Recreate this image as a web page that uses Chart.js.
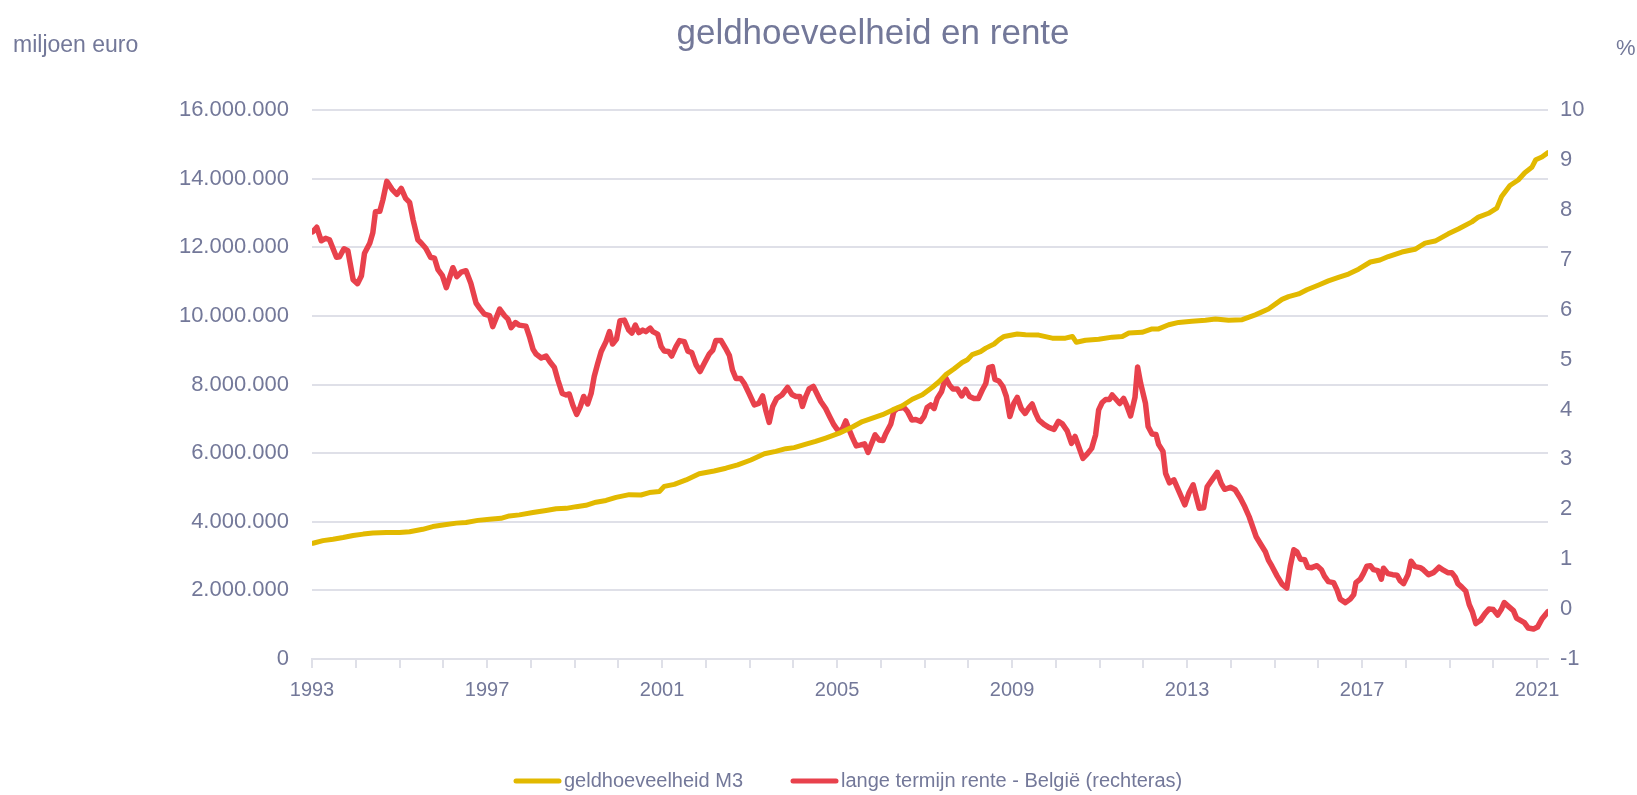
<!DOCTYPE html>
<html>
<head>
<meta charset="utf-8">
<script src="https://cdn.jsdelivr.net/npm/chart.js@4.4.1/dist/chart.umd.min.js"></script>
<style>
  html, body { margin: 0; padding: 0; background: #ffffff; }
  #wrap { width: 1637px; height: 795px; position: relative; }
</style>
</head>
<body>
<div id="wrap"><canvas id="c" width="1637" height="795"></canvas></div>
<script>
// ---------- DATA ----------
const chartTitle = 'geldhoeveelheid en rente';
const leftAxisTitle = 'miljoen euro';
const rightAxisTitle = '%';
const seriesNames = ['geldhoeveelheid M3', 'lange termijn rente - België (rechteras)'];
const xLabelYears = [1993, 1997, 2001, 2005, 2009, 2013, 2017, 2021];

// geldhoeveelheid M3 (miljoen euro), time in decimal years
const m3Years = [1993.02,1993.25,1993.48,1993.71,1993.94,1994.17,1994.39,1994.70,1995.00,1995.23,1995.53,1995.76,1996.03,1996.30,1996.52,1996.79,1997.06,1997.32,1997.51,1997.74,1998.05,1998.35,1998.58,1998.81,1999.04,1999.26,1999.49,1999.72,1999.95,2000.25,
  2000.52,2000.71,2000.94,2001.05,2001.28,2001.55,2001.85,2002.19,2002.46,2002.73,2003.03,2003.34,2003.60,2003.83,2004.02,2004.29,2004.51,2004.74,2005.05,2005.35,2005.58,2005.81,2006.04,2006.27,2006.49,2006.72,2006.95,2007.18,2007.33,
  2007.48,2007.67,2007.86,2007.98,2008.09,2008.28,2008.40,2008.59,2008.70,2008.82,2009.12,2009.31,2009.61,2009.92,2010.22,2010.38,2010.47,2010.68,2010.98,2011.29,2011.52,2011.67,2011.97,2012.20,2012.35,2012.58,2012.81,2013.11,2013.42,2013.65,2013.95,2014.26,2014.56,2014.86,
  2015.17,2015.32,2015.55,2015.74,2016.01,2016.23,2016.46,2016.69,2016.92,2017.19,2017.41,2017.60,2017.91,2018.21,2018.44,2018.67,2018.97,2019.20,2019.51,2019.66,2019.89,2020.08,2020.19,2020.38,2020.57,2020.72,2020.88,2020.97,2021.11,2021.25];
const m3Values = [3374000,3450000,3490000,3540000,3600000,3640000,3670000,3690000,3690000,3710000,3780000,3860000,3910000,3960000,3980000,4040000,4070000,4100000,4170000,4200000,4270000,4330000,4380000,4390000,4440000,4480000,4570000,4620000,4710000,4790000,
  4780000,4850000,4880000,5030000,5090000,5220000,5400000,5480000,5560000,5660000,5800000,5980000,6050000,6130000,6160000,6260000,6340000,6440000,6580000,6760000,6920000,7020000,7120000,7260000,7380000,7570000,7700000,7920000,8080000,
  8280000,8450000,8640000,8720000,8870000,8960000,9060000,9180000,9300000,9400000,9470000,9450000,9440000,9350000,9350000,9400000,9230000,9290000,9320000,9380000,9400000,9500000,9520000,9620000,9620000,9740000,9810000,9840000,9870000,9910000,9870000,9890000,10030000,10200000,
  10480000,10560000,10640000,10760000,10900000,11020000,11120000,11220000,11360000,11570000,11630000,11730000,11860000,11940000,12120000,12180000,12390000,12530000,12740000,12880000,12990000,13140000,13480000,13800000,13960000,14170000,14330000,14550000,14630000,14760000];

// lange termijn rente België (%), time in decimal years
const renteYears = [1993.02,1993.11,1993.21,1993.31,1993.40,1993.56,1993.63,1993.73,1993.82,1993.94,1994.04,1994.13,1994.20,1994.32,1994.39,1994.45,1994.55,1994.62,1994.71,1994.83,1994.94,1995.04,1995.14,1995.23,1995.31,1995.42,1995.50,1995.60,1995.71,1995.80,1995.88,1995.98,
  1996.07,1996.22,1996.31,1996.41,1996.52,1996.63,1996.75,1996.83,1996.94,1997.06,1997.13,1997.29,1997.40,1997.48,1997.55,1997.65,1997.73,1997.89,1997.97,1998.05,1998.12,1998.24,1998.35,1998.44,1998.54,1998.62,1998.72,1998.81,1998.88,1998.96,
  1999.05,1999.13,1999.21,1999.30,1999.38,1999.45,1999.53,1999.61,1999.72,1999.80,1999.87,1999.96,2000.04,2000.14,2000.24,2000.31,2000.39,2000.47,2000.56,2000.63,2000.73,2000.79,2000.90,2000.98,
  2001.05,2001.15,2001.22,2001.32,2001.40,2001.51,2001.59,2001.68,2001.78,2001.87,2001.97,2002.08,2002.16,2002.23,2002.35,2002.45,2002.54,2002.61,2002.69,2002.80,2002.88,2002.99,
  2003.11,2003.21,2003.30,2003.37,2003.45,2003.53,2003.62,2003.74,2003.87,2003.97,2004.06,2004.15,2004.21,2004.29,2004.36,2004.46,2004.55,2004.63,2004.74,2004.83,2004.93,
  2005.01,2005.11,2005.20,2005.28,2005.35,2005.44,2005.54,2005.63,2005.71,2005.79,2005.87,2005.96,2006.05,2006.11,2006.23,2006.30,2006.38,2006.53,2006.61,2006.71,2006.80,2006.91,2006.99,
  2007.06,2007.14,2007.22,2007.29,2007.39,2007.48,2007.57,2007.65,2007.75,2007.85,2007.94,2008.03,2008.13,2008.23,2008.32,2008.40,2008.47,2008.55,2008.61,2008.70,2008.79,2008.87,2008.95,
  2009.04,2009.12,2009.21,2009.30,2009.39,2009.46,2009.54,2009.61,2009.73,2009.84,2009.96,2010.06,2010.15,2010.26,2010.36,2010.44,2010.53,2010.62,2010.72,2010.82,2010.91,2010.98,
  2011.06,2011.14,2011.23,2011.29,2011.36,2011.46,2011.55,2011.63,2011.71,2011.81,2011.87,2011.94,2012.05,2012.11,2012.20,2012.29,2012.35,2012.45,2012.51,2012.60,2012.70,2012.80,2012.87,2012.95,
  2013.04,2013.14,2013.21,2013.28,2013.38,2013.46,2013.57,2013.69,2013.78,2013.86,2013.99,2014.10,2014.22,2014.32,2014.42,2014.50,2014.58,2014.67,2014.79,2014.86,2014.94,
  2015.06,2015.17,2015.28,2015.36,2015.44,2015.51,2015.59,2015.69,2015.76,2015.85,2015.97,2016.07,2016.14,2016.23,2016.35,2016.43,2016.50,2016.62,2016.73,2016.81,2016.86,2016.96,
  2017.03,2017.11,2017.19,2017.26,2017.36,2017.44,2017.49,2017.59,2017.70,2017.80,2017.87,2017.95,2018.05,2018.12,2018.21,2018.33,2018.40,2018.52,2018.63,2018.76,2018.86,2018.96,
  2019.05,2019.13,2019.19,2019.28,2019.37,2019.45,2019.52,2019.60,2019.70,2019.81,2019.90,2020.00,2020.10,2020.18,2020.25,2020.34,2020.46,2020.53,2020.61,2020.71,2020.80,2020.92,2021.01,2021.11,2021.25];
const renteValues = [7.56,7.65,7.38,7.43,7.40,7.05,7.06,7.22,7.18,6.60,6.52,6.68,7.13,7.33,7.54,7.96,7.97,8.20,8.57,8.41,8.31,8.43,8.23,8.15,7.80,7.40,7.33,7.23,7.05,7.03,6.80,6.68,
  6.44,6.84,6.66,6.75,6.78,6.53,6.13,6.03,5.91,5.88,5.66,6.01,5.88,5.81,5.64,5.74,5.69,5.67,5.46,5.21,5.11,5.03,5.07,4.95,4.84,4.59,4.32,4.29,4.31,4.09,
  3.90,4.05,4.26,4.11,4.32,4.66,4.92,5.16,5.36,5.56,5.31,5.41,5.78,5.79,5.59,5.53,5.69,5.54,5.59,5.56,5.63,5.56,5.51,5.26,
  5.17,5.16,5.07,5.26,5.38,5.36,5.17,5.14,4.89,4.76,4.93,5.11,5.19,5.38,5.38,5.23,5.08,4.79,4.62,4.62,4.52,4.32,
  4.09,4.12,4.27,3.99,3.74,4.06,4.22,4.29,4.44,4.30,4.26,4.26,4.06,4.27,4.41,4.46,4.30,4.16,4.02,3.86,3.69,
  3.59,3.58,3.77,3.59,3.44,3.27,3.29,3.31,3.14,3.32,3.49,3.39,3.38,3.51,3.71,3.96,4.02,4.04,3.96,3.79,3.80,3.76,3.86,
  4.04,4.09,4.02,4.22,4.36,4.64,4.49,4.41,4.41,4.27,4.40,4.26,4.22,4.22,4.39,4.52,4.84,4.86,4.60,4.57,4.46,4.26,3.86,
  4.12,4.24,4.02,3.92,4.04,4.11,3.92,3.79,3.70,3.64,3.60,3.76,3.71,3.57,3.32,3.46,3.24,3.02,3.11,3.22,3.49,3.99,
  4.14,4.20,4.20,4.29,4.22,4.12,4.22,4.06,3.87,4.24,4.85,4.52,4.12,3.66,3.51,3.50,3.30,3.16,2.72,2.53,2.59,2.39,2.25,2.09,
  2.32,2.49,2.25,2.02,2.03,2.45,2.59,2.74,2.52,2.40,2.44,2.39,2.22,2.05,1.85,1.65,1.45,1.32,1.15,0.98,0.86,
  0.66,0.50,0.42,0.86,1.19,1.15,1.00,0.99,0.84,0.83,0.87,0.79,0.66,0.55,0.53,0.38,0.20,0.13,0.20,0.29,0.53,0.60,
  0.71,0.86,0.87,0.79,0.77,0.60,0.82,0.71,0.69,0.68,0.57,0.51,0.69,0.96,0.85,0.83,0.79,0.69,0.73,0.84,0.78,0.73,
  0.73,0.64,0.51,0.44,0.36,0.09,-0.05,-0.29,-0.23,-0.09,0.00,-0.01,-0.12,-0.01,0.13,0.06,-0.03,-0.18,-0.22,-0.27,-0.38,-0.40,-0.36,-0.20,-0.05];

const leftMin = 0, leftMax = 16000000, leftStep = 2000000;
const rightMin = -1, rightMax = 10, rightStep = 1;
const xMin = 1993, xMax = 2021.25;

// ---------- STYLE ----------
const FONT = "'Liberation Sans', Arial, sans-serif";
const TEXT = '#737899';
const GRID = '#dfe0e8';
const YELLOW = '#e2b900';
const RED = '#e8414c';

function fmtThousands(v) {
  return String(Math.round(v)).replace(/\B(?=(\d{3})+(?!\d))/g, '.');
}

const decorPlugin = {
  id: 'decor',
  afterDraw(chart) {
    const ctx = chart.ctx;
    ctx.save();
    ctx.fillStyle = TEXT;
    // title
    ctx.font = '35px ' + FONT;
    ctx.textAlign = 'center';
    ctx.textBaseline = 'alphabetic';
    ctx.fillText(chartTitle, 873, 44);
    // axis titles
    ctx.font = '23px ' + FONT;
    ctx.textAlign = 'left';
    ctx.fillText(leftAxisTitle, 13, 52);
    ctx.font = '22px ' + FONT;
    ctx.fillText(rightAxisTitle, 1616, 55);
    // legend
    const items = [
      {x: 514, color: YELLOW, text: seriesNames[0]},
      {x: 791, color: RED, text: seriesNames[1]}
    ];
    ctx.font = '20px ' + FONT;
    ctx.textBaseline = 'middle';
    items.forEach(it => {
      ctx.strokeStyle = it.color;
      ctx.lineWidth = 5;
      ctx.lineCap = 'round';
      ctx.beginPath();
      ctx.moveTo(it.x + 2, 781);
      ctx.lineTo(it.x + 45, 781);
      ctx.stroke();
      ctx.fillStyle = TEXT;
      ctx.fillText(it.text, it.x + 50, 781);
    });
    ctx.restore();
  }
};

const ctx = document.getElementById('c').getContext('2d');
new Chart(ctx, {
  type: 'line',
  data: {
    datasets: [
      {
        label: seriesNames[0],
        data: m3Years.map((x, i) => ({x: x, y: m3Values[i]})),
        borderColor: YELLOW,
        backgroundColor: YELLOW,
        borderWidth: 5,
        yAxisID: 'y',
        pointRadius: 0,
        tension: 0,
        borderJoinStyle: 'round',
        borderCapStyle: 'round'
      },
      {
        label: seriesNames[1],
        data: renteYears.map((x, i) => ({x: x, y: renteValues[i]})),
        borderColor: RED,
        backgroundColor: RED,
        borderWidth: 5.5,
        yAxisID: 'y1',
        pointRadius: 0,
        tension: 0,
        borderJoinStyle: 'round',
        borderCapStyle: 'round'
      }
    ]
  },
  options: {
    responsive: false,
    animation: false,
    layout: { padding: { top: 110, bottom: 86, left: 0, right: 0 } },
    plugins: {
      legend: { display: false },
      title: { display: false },
      tooltip: { enabled: false }
    },
    scales: {
      x: {
        type: 'linear',
        min: xMin,
        max: xMax,
        position: 'bottom',
        afterFit: s => { s.height = 50; },
        grid: { drawOnChartArea: false, drawTicks: true, tickLength: 9, color: GRID, lineWidth: 2 },
        border: { display: true, color: GRID, width: 2 },
        ticks: {
          stepSize: 1,
          autoSkip: false,
          maxRotation: 0,
          includeBounds: false,
          padding: 10,
          color: TEXT,
          font: { family: FONT, size: 20 },
          callback: v => xLabelYears.includes(v) ? String(v) : ''
        }
      },
      y: {
        position: 'left',
        min: leftMin,
        max: leftMax,
        afterFit: s => { s.width = 312; },
        grid: { drawTicks: false, color: GRID, lineWidth: 2 },
        border: { display: false },
        ticks: {
          stepSize: leftStep,
          padding: 23,
          color: TEXT,
          font: { family: FONT, size: 22 },
          callback: v => fmtThousands(v)
        }
      },
      y1: {
        position: 'right',
        min: rightMin,
        max: rightMax,
        afterFit: s => { s.width = 89; },
        grid: { drawOnChartArea: false, drawTicks: false },
        border: { display: false },
        ticks: {
          stepSize: rightStep,
          padding: 12,
          color: TEXT,
          font: { family: FONT, size: 22 },
          callback: v => String(v)
        }
      }
    }
  },
  plugins: [decorPlugin]
});
</script>
</body>
</html>
